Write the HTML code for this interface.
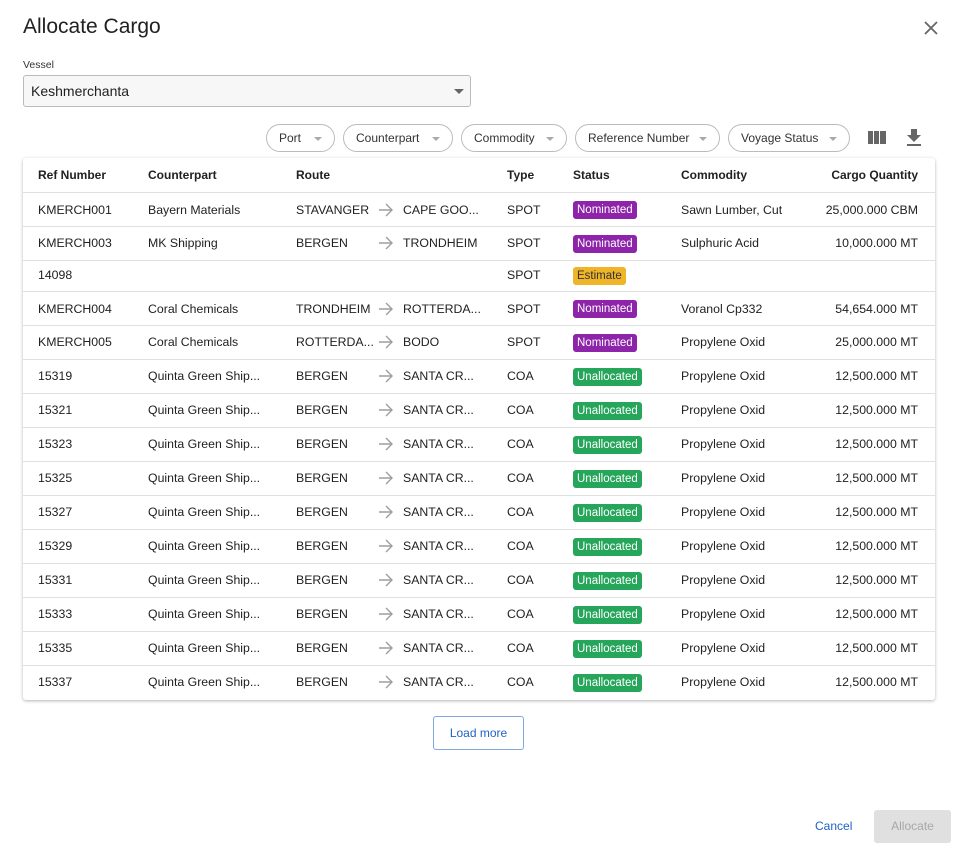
<!DOCTYPE html>
<html><head><meta charset="utf-8"><style>
*{box-sizing:border-box;margin:0;padding:0}
body{width:957px;height:850px;background:#fff;font-family:"Liberation Sans",sans-serif;color:#212121;position:relative;overflow:hidden}
.a{position:absolute;white-space:nowrap}
.title{left:23px;top:15px;font-size:21px;color:#212121}
.lbl{left:23px;top:59px;font-size:10.5px;color:#333}
.sel{left:23px;top:75px;width:448px;height:32px;border:1px solid #bbb;border-radius:3px;background:#f7f7f7}
.sel span{position:absolute;left:7px;top:7px;font-size:14px}
.tri{width:0;height:0;border-left:5px solid transparent;border-right:5px solid transparent;border-top:5px solid #666;position:absolute}
.chip{position:absolute;top:124px;height:28px;border:1px solid #bbb;border-radius:14px;font-size:12px;color:#333;padding:6px 0 0 12px}
.chip .tri{border-left-width:4px;border-right-width:4px;border-top:4px solid #aaa;top:12px}
.card{left:23px;top:158px;width:912px;height:542px;background:#fff;box-shadow:0 1px 3px rgba(0,0,0,.3);border-radius:3px}
.row{position:absolute;left:23px;width:912px;border-bottom:1px solid #e0e0e0;font-size:12.3px}
.row div{position:absolute;white-space:nowrap}
.h{font-weight:bold;font-size:12px}
.b{color:#fff;font-size:11.5px;border-radius:3px;padding:0 4px;height:18px;line-height:18px}
.n{background:#8e24aa}.u{background:#26a65b}.e{background:#f0b429;color:#333}
</style></head><body>
<div class="a title">Allocate Cargo</div>
<svg class="a" style="left:924px;top:21px" width="14" height="14"><path d="M1 1L13 13M13 1L1 13" stroke="#666" stroke-width="1.8"/></svg>
<div class="a lbl">Vessel</div>
<div class="a sel"><span>Keshmerchanta</span><div class="tri" style="left:430px;top:13px"></div></div>
<div class="chip" style="left:266px;width:69px">Port<div class="tri" style="left:47px"></div></div>
<div class="chip" style="left:343px;width:110px">Counterpart<div class="tri" style="left:88px"></div></div>
<div class="chip" style="left:461px;width:106px">Commodity<div class="tri" style="left:84px"></div></div>
<div class="chip" style="left:575px;width:145px">Reference Number<div class="tri" style="left:123px"></div></div>
<div class="chip" style="left:728px;width:122px">Voyage Status<div class="tri" style="left:100px"></div></div>
<div class="a" style="left:868px;top:131px;width:5px;height:13px;background:#666"></div>
<div class="a" style="left:874px;top:131px;width:5px;height:13px;background:#666"></div>
<div class="a" style="left:880px;top:131px;width:6px;height:13px;background:#666"></div>
<svg class="a" style="left:906px;top:129px" width="16" height="17"><path d="M5 0H11V6H15L8 13L1 6H5Z" fill="#666"/><rect x="1" y="15" width="14" height="2" fill="#666"/></svg>
<div class="a card"></div>
<svg width="0" height="0" style="position:absolute"><defs><symbol id="ar" viewBox="0 0 16 16"><path d="M1 8H14M8 2L14 8L8 14" stroke="#9e9e9e" stroke-width="1.4" fill="none"/></symbol></defs></svg>
<div class="row" style="top:158px;height:35px"><div class="h" style="left:15px;top:10px">Ref Number</div><div class="h" style="left:125px;top:10px">Counterpart</div><div class="h" style="left:273px;top:10px">Route</div><div class="h" style="left:484px;top:10px">Type</div><div class="h" style="left:550px;top:10px">Status</div><div class="h" style="left:658px;top:10px">Commodity</div><div class="h" style="right:17px;top:10px">Cargo Quantity</div></div>
<div class="row" style="top:193px;height:34px"><div style="left:15px;top:10px">KMERCH001</div><div style="left:125px;top:10px">Bayern Materials</div><div style="left:273px;top:10px">STAVANGER</div><div style="left:355px;top:9px"><svg width="16" height="16"><use href="#ar"/></svg></div><div style="left:380px;top:10px">CAPE GOO...</div><div style="left:484px;top:10px">SPOT</div><div class="b n" style="left:550px;top:8px">Nominated</div><div style="left:658px;top:10px">Sawn Lumber, Cut</div><div style="right:17px;top:10px">25,000.000 CBM</div></div>
<div class="row" style="top:227px;height:34px"><div style="left:15px;top:9px">KMERCH003</div><div style="left:125px;top:9px">MK Shipping</div><div style="left:273px;top:9px">BERGEN</div><div style="left:355px;top:8px"><svg width="16" height="16"><use href="#ar"/></svg></div><div style="left:380px;top:9px">TRONDHEIM</div><div style="left:484px;top:9px">SPOT</div><div class="b n" style="left:550px;top:8px">Nominated</div><div style="left:658px;top:9px">Sulphuric Acid</div><div style="right:17px;top:9px">10,000.000 MT</div></div>
<div class="row" style="top:261px;height:31px"><div style="left:15px;top:7px">14098</div><div style="left:484px;top:7px">SPOT</div><div class="b e" style="left:550px;top:6px">Estimate</div></div>
<div class="row" style="top:292px;height:34px"><div style="left:15px;top:10px">KMERCH004</div><div style="left:125px;top:10px">Coral Chemicals</div><div style="left:273px;top:10px">TRONDHEIM</div><div style="left:355px;top:9px"><svg width="16" height="16"><use href="#ar"/></svg></div><div style="left:380px;top:10px">ROTTERDA...</div><div style="left:484px;top:10px">SPOT</div><div class="b n" style="left:550px;top:8px">Nominated</div><div style="left:658px;top:10px">Voranol Cp332</div><div style="right:17px;top:10px">54,654.000 MT</div></div>
<div class="row" style="top:326px;height:34px"><div style="left:15px;top:9px">KMERCH005</div><div style="left:125px;top:9px">Coral Chemicals</div><div style="left:273px;top:9px">ROTTERDA...</div><div style="left:355px;top:8px"><svg width="16" height="16"><use href="#ar"/></svg></div><div style="left:380px;top:9px">BODO</div><div style="left:484px;top:9px">SPOT</div><div class="b n" style="left:550px;top:8px">Nominated</div><div style="left:658px;top:9px">Propylene Oxid</div><div style="right:17px;top:9px">25,000.000 MT</div></div>
<div class="row" style="top:360px;height:34px"><div style="left:15px;top:9px">15319</div><div style="left:125px;top:9px">Quinta Green Ship...</div><div style="left:273px;top:9px">BERGEN</div><div style="left:355px;top:8px"><svg width="16" height="16"><use href="#ar"/></svg></div><div style="left:380px;top:9px">SANTA CR...</div><div style="left:484px;top:9px">COA</div><div class="b u" style="left:550px;top:8px">Unallocated</div><div style="left:658px;top:9px">Propylene Oxid</div><div style="right:17px;top:9px">12,500.000 MT</div></div>
<div class="row" style="top:394px;height:34px"><div style="left:15px;top:9px">15321</div><div style="left:125px;top:9px">Quinta Green Ship...</div><div style="left:273px;top:9px">BERGEN</div><div style="left:355px;top:8px"><svg width="16" height="16"><use href="#ar"/></svg></div><div style="left:380px;top:9px">SANTA CR...</div><div style="left:484px;top:9px">COA</div><div class="b u" style="left:550px;top:8px">Unallocated</div><div style="left:658px;top:9px">Propylene Oxid</div><div style="right:17px;top:9px">12,500.000 MT</div></div>
<div class="row" style="top:428px;height:34px"><div style="left:15px;top:9px">15323</div><div style="left:125px;top:9px">Quinta Green Ship...</div><div style="left:273px;top:9px">BERGEN</div><div style="left:355px;top:8px"><svg width="16" height="16"><use href="#ar"/></svg></div><div style="left:380px;top:9px">SANTA CR...</div><div style="left:484px;top:9px">COA</div><div class="b u" style="left:550px;top:8px">Unallocated</div><div style="left:658px;top:9px">Propylene Oxid</div><div style="right:17px;top:9px">12,500.000 MT</div></div>
<div class="row" style="top:462px;height:34px"><div style="left:15px;top:9px">15325</div><div style="left:125px;top:9px">Quinta Green Ship...</div><div style="left:273px;top:9px">BERGEN</div><div style="left:355px;top:8px"><svg width="16" height="16"><use href="#ar"/></svg></div><div style="left:380px;top:9px">SANTA CR...</div><div style="left:484px;top:9px">COA</div><div class="b u" style="left:550px;top:8px">Unallocated</div><div style="left:658px;top:9px">Propylene Oxid</div><div style="right:17px;top:9px">12,500.000 MT</div></div>
<div class="row" style="top:496px;height:34px"><div style="left:15px;top:9px">15327</div><div style="left:125px;top:9px">Quinta Green Ship...</div><div style="left:273px;top:9px">BERGEN</div><div style="left:355px;top:8px"><svg width="16" height="16"><use href="#ar"/></svg></div><div style="left:380px;top:9px">SANTA CR...</div><div style="left:484px;top:9px">COA</div><div class="b u" style="left:550px;top:8px">Unallocated</div><div style="left:658px;top:9px">Propylene Oxid</div><div style="right:17px;top:9px">12,500.000 MT</div></div>
<div class="row" style="top:530px;height:34px"><div style="left:15px;top:9px">15329</div><div style="left:125px;top:9px">Quinta Green Ship...</div><div style="left:273px;top:9px">BERGEN</div><div style="left:355px;top:8px"><svg width="16" height="16"><use href="#ar"/></svg></div><div style="left:380px;top:9px">SANTA CR...</div><div style="left:484px;top:9px">COA</div><div class="b u" style="left:550px;top:8px">Unallocated</div><div style="left:658px;top:9px">Propylene Oxid</div><div style="right:17px;top:9px">12,500.000 MT</div></div>
<div class="row" style="top:564px;height:34px"><div style="left:15px;top:9px">15331</div><div style="left:125px;top:9px">Quinta Green Ship...</div><div style="left:273px;top:9px">BERGEN</div><div style="left:355px;top:8px"><svg width="16" height="16"><use href="#ar"/></svg></div><div style="left:380px;top:9px">SANTA CR...</div><div style="left:484px;top:9px">COA</div><div class="b u" style="left:550px;top:8px">Unallocated</div><div style="left:658px;top:9px">Propylene Oxid</div><div style="right:17px;top:9px">12,500.000 MT</div></div>
<div class="row" style="top:598px;height:34px"><div style="left:15px;top:9px">15333</div><div style="left:125px;top:9px">Quinta Green Ship...</div><div style="left:273px;top:9px">BERGEN</div><div style="left:355px;top:8px"><svg width="16" height="16"><use href="#ar"/></svg></div><div style="left:380px;top:9px">SANTA CR...</div><div style="left:484px;top:9px">COA</div><div class="b u" style="left:550px;top:8px">Unallocated</div><div style="left:658px;top:9px">Propylene Oxid</div><div style="right:17px;top:9px">12,500.000 MT</div></div>
<div class="row" style="top:632px;height:34px"><div style="left:15px;top:9px">15335</div><div style="left:125px;top:9px">Quinta Green Ship...</div><div style="left:273px;top:9px">BERGEN</div><div style="left:355px;top:8px"><svg width="16" height="16"><use href="#ar"/></svg></div><div style="left:380px;top:9px">SANTA CR...</div><div style="left:484px;top:9px">COA</div><div class="b u" style="left:550px;top:8px">Unallocated</div><div style="left:658px;top:9px">Propylene Oxid</div><div style="right:17px;top:9px">12,500.000 MT</div></div>
<div class="row" style="top:666px;height:34px;border-bottom:none"><div style="left:15px;top:9px">15337</div><div style="left:125px;top:9px">Quinta Green Ship...</div><div style="left:273px;top:9px">BERGEN</div><div style="left:355px;top:8px"><svg width="16" height="16"><use href="#ar"/></svg></div><div style="left:380px;top:9px">SANTA CR...</div><div style="left:484px;top:9px">COA</div><div class="b u" style="left:550px;top:8px">Unallocated</div><div style="left:658px;top:9px">Propylene Oxid</div><div style="right:17px;top:9px">12,500.000 MT</div></div>
<div class="a" style="left:433px;top:716px;width:91px;height:34px;border:1px solid #7fa7de;border-radius:3px;color:#1e63c4;font-size:12px;text-align:center;padding-top:9px">Load more</div>
<div class="a" style="left:815px;top:819px;color:#1e63c4;font-size:12px">Cancel</div>
<div class="a" style="left:874px;top:810px;width:77px;height:33px;background:#e0e0e0;border-radius:3px;color:#a8a8a8;font-size:12px;text-align:center;padding-top:9px">Allocate</div>
</body></html>
